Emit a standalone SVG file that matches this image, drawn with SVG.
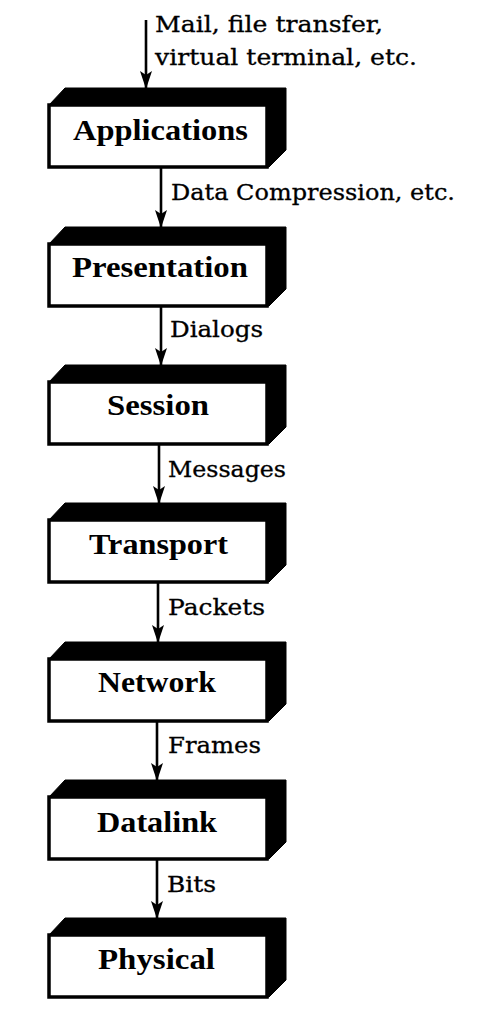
<svg xmlns="http://www.w3.org/2000/svg" xmlns:xlink="http://www.w3.org/1999/xlink" width="500" height="1010" viewBox="0 0 500 1010">
<style>
.slab{fill:#000;stroke:#000;stroke-width:1;stroke-linejoin:miter}
.face{fill:#fff;stroke:#000;stroke-width:3.5}
.name{font-family:"Liberation Serif","DejaVu Serif",serif;font-weight:bold;font-size:29px;fill:#000;text-anchor:middle}
.lbl{font-family:"DejaVu Serif","Liberation Serif",serif;font-size:21.5px;fill:#000;stroke:#000;stroke-width:0.3}
.conn{stroke:#000;stroke-width:2.6;fill:none}
</style>
<defs>
<marker id="arr" viewBox="0 0 18 12" refX="17" refY="6" markerWidth="18" markerHeight="12" markerUnits="userSpaceOnUse" orient="auto">
<path d="M0,0 L18,6 L0,12 L4,6 Z" fill="#000"/>
</marker>
<g id="box">
<polygon class="slab" points="49,17 65,0 286,0 286,62 269,79 267,79 267,17"/>
<rect class="face" x="49" y="17" width="218" height="62"/>
</g>
</defs>
<rect width="500" height="1010" fill="#fff"/>
<g id="connectors">
<line class="conn" x1="146" y1="20" x2="146" y2="88" marker-end="url(#arr)"/>
<line class="conn" x1="161" y1="167" x2="161" y2="227" marker-end="url(#arr)"/>
<line class="conn" x1="161" y1="305" x2="161" y2="365" marker-end="url(#arr)"/>
<line class="conn" x1="159" y1="443" x2="159" y2="503" marker-end="url(#arr)"/>
<line class="conn" x1="158" y1="581" x2="158" y2="642" marker-end="url(#arr)"/>
<line class="conn" x1="157" y1="720" x2="157" y2="780" marker-end="url(#arr)"/>
<line class="conn" x1="157" y1="858" x2="157" y2="918" marker-end="url(#arr)"/>
<text class="lbl" x="155" y="32" textLength="228" lengthAdjust="spacingAndGlyphs">Mail, file transfer,</text>
<text class="lbl" x="155" y="65" textLength="262" lengthAdjust="spacingAndGlyphs">virtual terminal, etc.</text>
<text class="lbl" x="171" y="200" textLength="284" lengthAdjust="spacingAndGlyphs">Data Compression, etc.</text>
<text class="lbl" x="170" y="337" textLength="93" lengthAdjust="spacingAndGlyphs">Dialogs</text>
<text class="lbl" x="168" y="477" textLength="118" lengthAdjust="spacingAndGlyphs">Messages</text>
<text class="lbl" x="168" y="615" textLength="97" lengthAdjust="spacingAndGlyphs">Packets</text>
<text class="lbl" x="168" y="753" textLength="93" lengthAdjust="spacingAndGlyphs">Frames</text>
<text class="lbl" x="167" y="892" textLength="49" lengthAdjust="spacingAndGlyphs">Bits</text>
</g>
<g id="applications" transform="translate(0,88)">
<use xlink:href="#box"/>
<text class="name" x="160.5" y="52" textLength="175" lengthAdjust="spacingAndGlyphs">Applications</text>
</g>
<g id="presentation" transform="translate(0,227)">
<use xlink:href="#box"/>
<text class="name" x="160" y="50" textLength="176" lengthAdjust="spacingAndGlyphs">Presentation</text>
</g>
<g id="session" transform="translate(0,365)">
<use xlink:href="#box"/>
<text class="name" x="158" y="50" textLength="102" lengthAdjust="spacingAndGlyphs">Session</text>
</g>
<g id="transport" transform="translate(0,503)">
<use xlink:href="#box"/>
<text class="name" x="158.5" y="51" textLength="139" lengthAdjust="spacingAndGlyphs">Transport</text>
</g>
<g id="network" transform="translate(0,642)">
<use xlink:href="#box"/>
<text class="name" x="157" y="50" textLength="118" lengthAdjust="spacingAndGlyphs">Network</text>
</g>
<g id="datalink" transform="translate(0,780)">
<use xlink:href="#box"/>
<text class="name" x="157" y="52" textLength="120" lengthAdjust="spacingAndGlyphs">Datalink</text>
</g>
<g id="physical" transform="translate(0,918)">
<use xlink:href="#box"/>
<text class="name" x="156.5" y="51" textLength="117" lengthAdjust="spacingAndGlyphs">Physical</text>
</g>
</svg>
